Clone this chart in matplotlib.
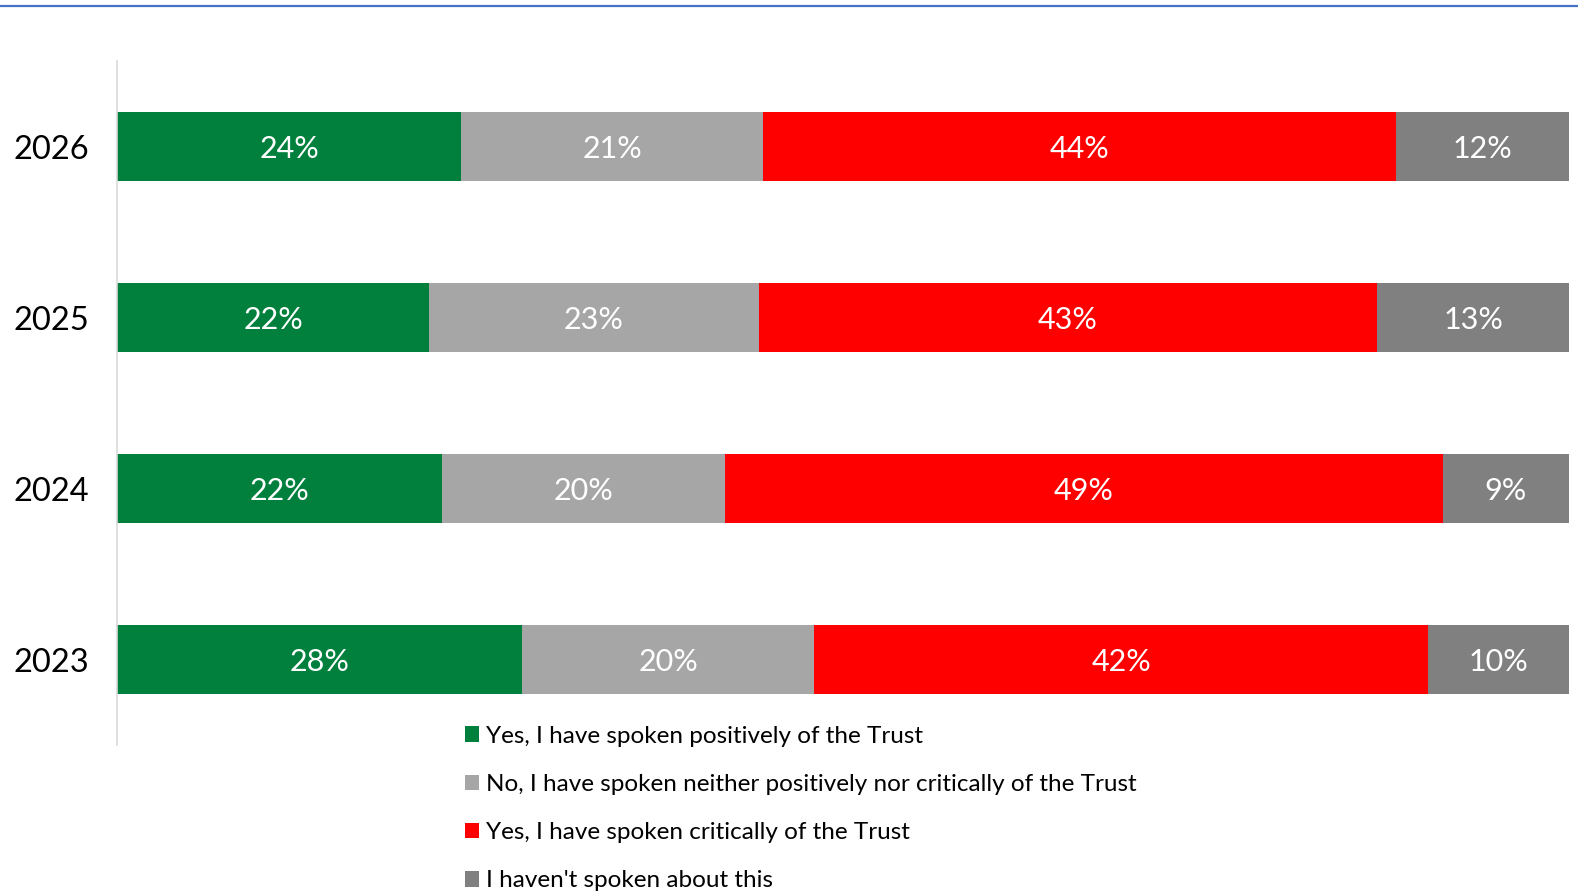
import matplotlib
matplotlib.use("Agg")
import matplotlib.pyplot as plt
from matplotlib.lines import Line2D
from matplotlib.patches import Patch
import numpy as np

years = ["2023", "2024", "2025", "2026"]
categories = [
    "Yes, I have spoken positively of the Trust",
    "No, I have spoken neither positively nor critically of the Trust",
    "Yes, I have spoken critically of the Trust",
    "I haven't spoken about this",
]
positive = [27.9, 22.4, 21.5, 23.7]
neither = [20.1, 19.5, 22.7, 20.8]
critical = [42.3, 49.4, 42.6, 43.6]
not_spoken = [9.7, 8.7, 13.3, 11.9]
colors = ["#00803c", "#a6a6a6", "#ff0000", "#808080"]

plt.rcParams["font.family"] = ["Lato", "DejaVu Sans"]

fig = plt.figure(figsize=(15.78, 8.96), dpi=100)
ax = fig.add_axes([117 / 1578, 1 - 745 / 896, (1569 - 117) / 1578, 684 / 896])

y = np.arange(len(years))
left = np.zeros(len(years))
for series, color in zip([positive, neither, critical, not_spoken], colors):
    vals = np.array(series)
    ax.barh(y, vals, left=left, height=0.40, color=color, edgecolor="none")
    for yi, l, v in zip(y, left, vals):
        ax.text(l + v / 2, yi - 0.015, f"{int(v + 0.5)}%", ha="center", va="center",
                color="white", fontsize=22)
    left += vals

ax.set_xlim(0, 100)
ax.set_ylim(-0.5, 3.5)
ax.set_yticks(y)
ax.set_yticklabels(years, fontsize=23.5)
ax.tick_params(axis="y", length=0, pad=20)
ax.set_xticks([])
for s in ["top", "right", "bottom"]:
    ax.spines[s].set_visible(False)
ax.spines["left"].set_color("#d9d9d9")
ax.spines["left"].set_linewidth(1.2)

handles = [Patch(facecolor=c, edgecolor="none") for c in colors]
fig.legend(handles, categories, loc="upper left",
           bbox_to_anchor=(455 / 1578, 1 - 716 / 896), frameon=False,
           fontsize=17.5, labelspacing=1.12, handlelength=0.6, handleheight=0.6,
           handletextpad=0.28, borderaxespad=0)

fig.add_artist(Line2D([0, 1], [1 - 6 / 896, 1 - 6 / 896], color="#4472c4",
                      linewidth=1.6, transform=fig.transFigure))

fig.savefig("out.png", dpi=100)
